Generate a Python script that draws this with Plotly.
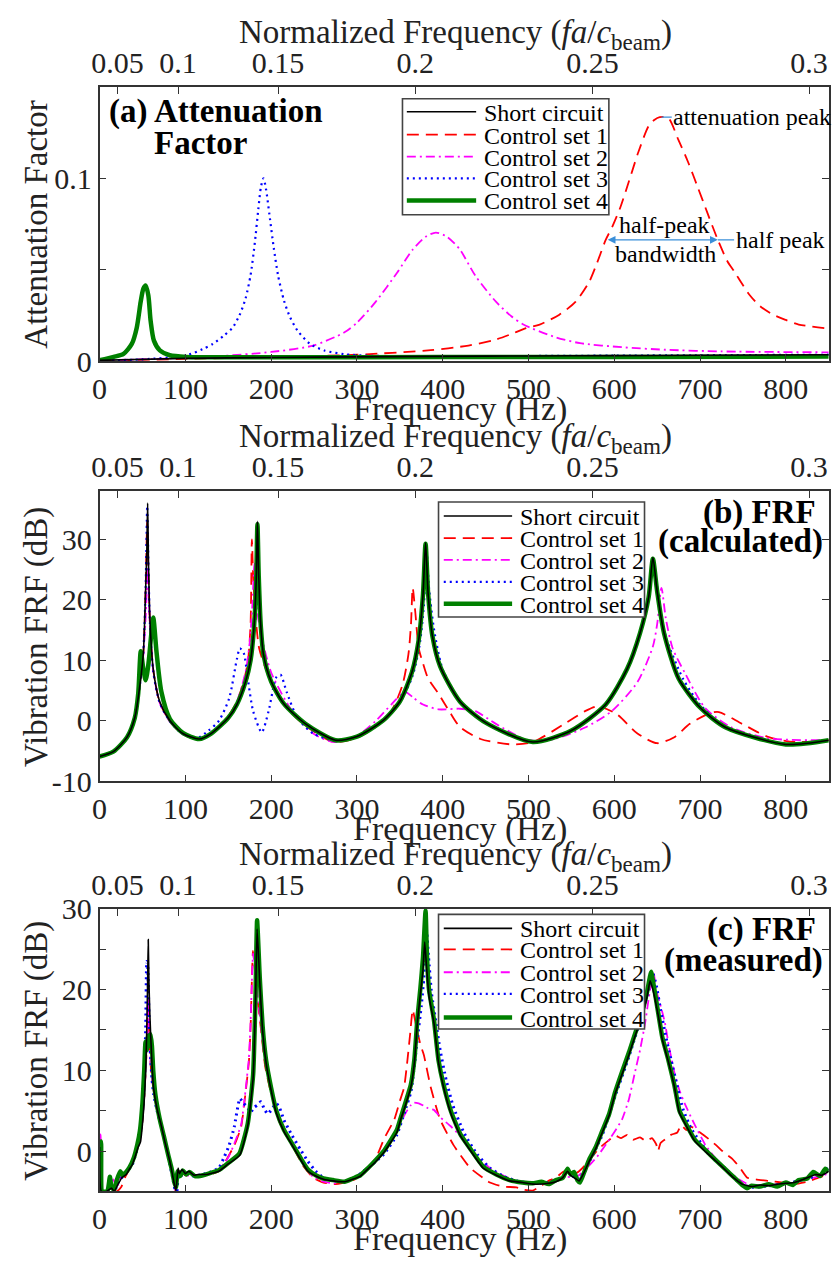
import plotly.graph_objects as go

# ---------------- data ----------------
freq_tickvals = [0, 100, 200, 300, 400, 500, 600, 700, 800]
freq_ticktext = ["0", "100", "200", "300", "400", "500", "600", "700", "800"]
# normalized-frequency ticks of the top axis, placed at their frequency (Hz)
norm_tick_hz = [21, 91.5, 208, 368, 574.5, 827]
norm_ticktext = ["0.05", "0.1", "0.15", "0.2", "0.25", "0.3"]

series_names = ["Short circuit", "Control set 1", "Control set 2", "Control set 3", "Control set 4"]

# (a) attenuation factor  [(Hz, value)]
a_short = [(0, 0.0004), (100, 0.0015), (200, 0.002), (300, 0.0023), (400, 0.0026), (500, 0.0028),
           (600, 0.003), (700, 0.0032), (850, 0.0035)]
a_set1 = [(0, 0.0003), (100, 0.0012), (200, 0.0023), (300, 0.0035), (386, 0.006), (430, 0.0085),
          (460, 0.0115), (480, 0.0148), (497, 0.018), (513, 0.02), (536, 0.0254), (555, 0.0325),
          (570.6, 0.0432), (580, 0.0538), (590, 0.0663), (597.5, 0.0733), (607, 0.084), (617, 0.0982),
          (628, 0.1142), (640, 0.1285), (647, 0.132), (653, 0.1334), (663, 0.133), (674.5, 0.1213),
          (686, 0.1089), (697.6, 0.0947), (709, 0.0805), (720.7, 0.0663), (732, 0.0545), (740, 0.049),
          (748, 0.043), (758, 0.036), (770, 0.030), (785, 0.0254), (800, 0.0225), (815, 0.020), (850, 0.0178)]
a_set2 = [(0, 0.0003), (78, 0.0014), (139, 0.0027), (200, 0.005), (249, 0.0085), (285, 0.0156),
          (300, 0.021), (322, 0.0325), (347, 0.0485), (365, 0.061), (380, 0.068), (392, 0.0703),
          (405, 0.068), (420, 0.061), (438, 0.0467), (462, 0.0325), (480, 0.0245), (494, 0.02),
          (532, 0.013), (560, 0.0098), (609, 0.0076), (660, 0.0062), (724.5, 0.0053), (850, 0.0048)]
a_set3 = [(0, 0.0003), (50, 0.001), (100, 0.003), (120, 0.0065), (132, 0.0094), (145, 0.014),
          (155, 0.0183), (163, 0.025), (170, 0.034), (176, 0.047), (181, 0.065), (185, 0.083),
          (188, 0.095), (191, 0.1), (194, 0.094), (198, 0.08), (203, 0.062), (208, 0.047), (215, 0.033),
          (222, 0.024), (231, 0.0165), (245, 0.0095), (262, 0.0058), (285, 0.0038), (310, 0.003),
          (350, 0.0027), (450, 0.0027), (600, 0.003), (850, 0.0035)]
a_set4 = [(0, 0.0005), (16.4, 0.0023), (27.9, 0.004), (37.5, 0.0094), (43.3, 0.0183), (47.9, 0.0325),
          (51, 0.0396), (53.7, 0.0414), (56.8, 0.036), (59.5, 0.0219), (63.3, 0.0112), (70.2, 0.0059),
          (81.8, 0.0032), (101, 0.0023), (200, 0.0021), (400, 0.0022), (600, 0.0023), (850, 0.0025)]

# (b) calculated FRF (dB)
b_short = [(0, -5.9), (16, -5.1), (32, -2.7), (41, 0.5), (47, 5.9), (51, 11.3), (53.7, 22), (55, 28),
           (56, 36), (57, 26), (58.7, 16.6), (62.5, 8.6), (70, 3.2), (82, 0), (97, -2.1), (116, -3.0),
           (130, -2.1), (150, 0.5), (160, 2.7), (170, 6.4), (176, 10), (180, 15.5), (182.5, 23), (184, 33),
           (185.5, 24), (188, 15.5), (191, 11), (200, 6.5), (215, 2.8), (240, -0.5), (275, -3.2),
           (300, -2.6), (330, 0), (350, 3.2), (364, 8), (372, 13.4), (377, 20.9), (380, 29.5), (383, 21),
           (388, 14), (397, 9), (420, 3.2), (450, -0.3), (505, -3.5), (550, -1.6), (590, 2.7), (615, 8.6),
           (630, 14.5), (640, 20.4), (645, 27), (650, 21.4), (658, 14.5), (675, 7), (700, 2.2),
           (730, -1.1), (800, -3.9), (850, -3.2)]
b_set1 = [(0, -5.9), (16, -5.1), (32, -2.7), (41, 0.5), (47, 5.9), (51, 11.3), (53.7, 22), (55.5, 33),
          (57, 24), (58.7, 16), (62.5, 8.4), (70, 3.1), (82, -0.1), (97, -2.2), (113, -3.0),
          (130, -2.2), (150, 0.8), (160, 3.2), (168, 6.5), (173, 10), (176, 16), (177.5, 30), (179, 24),
          (182, 17), (186, 12), (194, 8.5), (212, 3.2), (237, -0.5), (273, -3.5), (300, -2.8),
          (322, -1.0), (340, 1.6), (353, 5.9), (360, 11), (363, 16), (365, 22), (368, 18), (372, 12),
          (377, 9.5), (383, 7), (395, 4.5), (408, 1.5), (420, -1.0), (444, -3.0), (481, -3.9),
          (505, -3.5), (542, -0.5), (566, 1.6), (581, 2.4), (603, 1.1), (627, -2.1), (650, -3.7),
          (670, -2.7), (688, -0.5), (712, 1.3), (722, 1.45), (749, -0.5), (780, -2.7), (810, -3.5),
          (850, -3.2)]
b_set2 = [(0, -5.9), (16, -5.1), (32, -2.7), (41, 0.5), (47, 5.9), (51, 11), (54, 18), (56, 25.5),
          (57.5, 20), (59.5, 13), (63, 7.8), (70, 3.0), (82, -0.2), (97, -2.2), (113, -3.0),
          (130, -2.3), (139, -1.1), (157, 2.1), (170, 8), (175, 13), (178, 19), (180.5, 26), (183, 19),
          (188, 14.5), (200, 8), (224.5, 1.6), (249, -2.1), (273, -3.5), (298, -2.7), (322, 0),
          (340, 2.7), (356, 4.8), (366, 3.8), (377, 2.7), (395, 1.9), (420, 2.0), (438, 1.6),
          (462, -0.5), (499, -3.2), (530, -3.0), (566, -1.1), (597, 1.6), (627, 6.4), (645, 12.3),
          (650, 16), (655, 22), (660, 17), (668, 12), (682, 8), (706, 2.1), (737, -1.1), (780, -2.9),
          (850, -3.2)]
b_set3 = [(0, -5.9), (16, -5.1), (32, -2.7), (41, 0.5), (47, 6), (51, 11.5), (53.7, 22), (55.5, 35.5),
          (57, 25), (58.7, 16), (62.5, 8.2), (70, 3.0), (82, -0.1), (97, -2.2), (113, -2.9),
          (127, -1.6), (139, 0), (151, 3.7), (160, 10.2), (163.5, 12), (168, 11.2), (172.7, 7),
          (179, 1.6), (189, -1.9), (197, 1.6), (206, 7.2), (211, 7.6), (218, 4.8), (230.6, 0.5),
          (249, -2.1), (273, -3.2), (300, -2.6), (330, 0), (350, 3.0), (365, 7.5), (373, 12.5),
          (378, 19), (381, 28.5), (384, 22), (390, 15), (400, 8.5), (420, 3.3), (450, -0.4), (505, -3.5),
          (550, -1.6), (590, 2.7), (615, 8.6), (630, 14.5), (640, 20.4), (645.5, 26.5), (651, 21),
          (660, 14), (680, 7), (700, 2.7), (730, -1.1), (800, -3.9), (850, -3.2)]
b_set4 = [(0, -5.9), (16, -5.1), (32, -2.7), (41, 0.5), (45, 4.5), (48, 11.5), (51, 8.5), (53.7, 6.7),
          (57, 9.5), (60, 14), (62.5, 17.1), (66.4, 11.3), (72, 4.8), (82, 0.3), (97, -2.0), (116, -3.0),
          (130, -2.1), (150, 0.5), (160, 2.7), (170, 6.4), (176, 10), (180, 15.5), (182.5, 23), (184, 32.5),
          (185.5, 24), (188, 15.5), (191, 11), (200, 6.5), (215, 2.8), (240, -0.5), (275, -3.2),
          (300, -2.6), (330, 0), (350, 3.2), (364, 8), (372, 13.4), (377, 20.9), (380, 29.3), (383, 21),
          (388, 14), (397, 9), (420, 3.2), (450, -0.3), (505, -3.5), (550, -1.6), (590, 2.7), (615, 8.6),
          (630, 14.5), (640, 20.4), (645, 26.8), (650, 21.4), (658, 14.5), (675, 7), (700, 2.2),
          (730, -1.1), (800, -3.9), (850, -3.2)]

# (c) measured FRF (dB)
c_short = [(0, 0.5), (2, -5), (8, -5), (14, -4.6), (17, -5), (22, -4), (26, -3.3), (31, -2.9), (35, -2.2),
           (38, -1.7), (42, -0.5), (45, 0.5), (47.6, 1.1), (50.5, 4), (52.5, 7.1), (54, 11), (55, 15.2),
           (56, 21), (56.7, 26.2), (57.5, 21), (58.6, 16.8), (60.5, 12), (62.8, 7.9), (67, 5.2), (72, 3.1),
           (76, 1.2), (81, -0.9), (84, -2.4), (87, -4.1), (89, -4.9), (91.5, -2.1), (93, -2.8), (96, -2.3),
           (100, -2.8), (104, -2.5), (110, -3.0), (115, -2.9), (125, -2.9), (139, -2.5), (150, -1.6),
           (163.5, -0.5), (172.7, 3.1), (179, 9.1), (181.8, 19), (183.6, 27.5), (186.7, 21), (190, 15),
           (194, 11), (200, 7.5), (206, 4.7), (215, 2.4), (224.5, 0.7), (235, -1.2), (243, -2.5),
           (252, -3.1), (261, -3.5), (272, -3.7), (285.5, -3.8), (295, -3.5), (304, -3.1), (313, -2.2),
           (322, -1.3), (332, -0.1), (346.5, 2.3), (351, 3.9), (356, 5.5), (362.8, 7.9), (367, 11),
           (370.4, 15.9), (374, 19.5), (377, 22.5), (379, 25.9), (381, 23), (384, 19.2), (389.7, 15.9),
           (395, 11), (401, 7.9), (410, 4.5), (420.5, 1.9), (432, 0.1), (447, -2.1), (462.5, -3.0),
           (478, -3.7), (493, -3.9), (505, -4.1), (523.5, -4.0), (532, -3.8), (540, -3.3), (545.5, -2.5),
           (549, -3.0), (553, -3.3), (559, -3.7), (565, -2.6), (570.6, -1.3), (578, 0.2), (586, 2.3),
           (594, 4.4), (601, 7.1), (609, 9.5), (617, 11.9), (625, 14.5), (632, 16.7), (638, 19),
           (641.7, 21.1), (645, 20), (651.4, 16.7), (656, 13.8), (663, 11.1), (670, 8), (676, 4.7),
           (682, 3.5), (694, 1.2), (706.5, -0.1), (718, -1.2), (731, -2.5), (740, -3.4), (749, -4.1),
           (760, -4.4), (770, -4.2), (780, -4.3), (790, -4.1), (800, -4.0), (810, -3.9), (818, -3.6),
           (825, -3.3), (835, -2.9), (842, -3.0), (850, -2.5)]
c_set1 = [(0, 0.5), (2, -5), (20, -5), (25, -4.5), (30, -3.2), (35, -2.2), (40, -1), (45, 0.8), (48, 2),
          (51, 5), (53, 8.5), (55, 13), (56.5, 19), (58, 14), (60, 10), (63, 7.5), (67, 5), (72, 3),
          (77, 1), (81, -0.9), (85, -3), (88, -5), (91, -2.5), (95, -2.6), (100, -3.0), (110, -3.1),
          (120, -3.1), (139, -2.5), (157, 0.7), (165, 3), (170, 7.1), (174, 11), (176, 15.2),
          (178.8, 24.8), (182, 21.2), (185, 18), (188, 15.2), (193, 10.5), (200, 7.1), (210, 3.5),
          (224.5, 0.7), (237, -1.8), (249, -3.3), (261, -3.9), (273, -4.1), (285, -3.9), (298, -3.5),
          (310, -2.4), (322, -0.9), (332, 1.6), (343.5, 3.9), (350, 6.2), (355, 7.9), (358.8, 11.2),
          (362, 14.5), (365, 17.5), (369, 15.5), (374, 13.2), (378, 11.9), (386, 7.9), (397, 3.9),
          (412.8, 0.7), (432, -2.1), (455, -3.9), (470, -4.4), (486, -4.5), (495, -4.8), (505, -4.9),
          (515, -4.3), (525, -3.6), (532, -3.3), (540, -2.6), (548, -2.3), (556, -2.7), (563, -2.1),
          (572, -1.0), (582, 0.3), (592, 1.2), (601, 1.9), (608, 1.6), (615, 2.0), (622, 1.4), (630, 1.7),
          (637, 1.2), (644, 1.6), (649, 0.8), (651, 0.0), (654, 1.0), (660, 1.5), (666, 2.0), (673.5, 2.3),
          (678, 3.2), (684, 2.6), (690, 3.0), (700, 2.3), (710, 1.5), (719, 0.7), (728, -0.2), (737, -0.9),
          (746, -2.0), (755, -3.3), (765, -3.5), (780, -3.7), (795, -3.9), (810, -4.1), (825, -3.8),
          (838, -3.3), (850, -2.9)]
c_set2 = [(0, 2.1), (1, 2.0), (3, -5), (12, -5), (16, -3.5), (20, -4.5), (25, -3.2), (30, -2.8), (35, -2.1),
          (40, -0.8), (45, 0.8), (48, 2), (51, 5), (53, 8.5), (55, 13), (56.5, 19), (58, 14), (60, 10),
          (63, 7.5), (67, 5), (72, 3), (77, 1), (81, -0.9), (85, -3), (88, -4.8), (91, -2.5), (95, -2.7),
          (100, -3.0), (110, -3.1), (120, -3.0), (139, -2.3), (150, -0.8), (157, 0.9), (165, 3.3),
          (170, 7.4), (174, 11.5), (176, 16), (179, 24.5), (182, 21.5), (185, 18.5), (188, 15.6),
          (193, 11), (200, 7.5), (210, 3.8), (224.5, 0.9), (237, -1.6), (249, -3.2), (261, -3.8),
          (273, -4.0), (285, -3.8), (298, -3.4), (310, -2.6), (322, -1.3), (332, 0.2), (340, 1.2),
          (347, 2.6), (352, 3.8), (359, 5.1), (363, 5.7), (366.6, 6.0), (372, 5.9), (378, 5.6),
          (383, 5.3), (389.7, 5.1), (398, 4.1), (409, 3.1), (420, 1.9), (428, 0.7), (440, -0.7),
          (455, -2.1), (470, -3.0), (486, -3.7), (500, -4.0), (515, -4.0), (530, -3.7), (545, -3.2),
          (555, -3.3), (566, -2.3), (580, -0.7), (596, 1.7), (609, 3.9), (617, 6.4), (624.4, 9.9),
          (630, 12.5), (636, 15.9), (641, 19.5), (645.6, 22.1), (650, 19.5), (654, 18), (659, 15.9),
          (664, 12.8), (670.6, 9.5), (676, 7.5), (682, 5.9), (694, 3.2), (706.5, 0.7), (718, -0.9),
          (731, -2.3), (745, -3.5), (760, -4.3), (780, -4.2), (800, -4.0), (825, -3.5), (850, -2.8)]
c_set3 = [(0, 1), (1.5, 0), (3, -5), (10, -5), (14, -4), (18, -4.8), (22, -3.8), (28, -3), (33, -2.4),
          (38, -1.7), (43, 0), (47, 2), (50, 5), (52, 9), (53.7, 15), (55, 23.5), (56, 23), (57.5, 17),
          (59, 12.5), (61, 9), (63, 7), (67, 5), (72, 3), (77, 1), (81, -1.2), (85, -3.2), (88, -4.8),
          (90, -5), (92, -3), (96, -3), (102, -2.8), (110, -3.1), (120, -2.9), (129, -2.6), (139, -2.1),
          (145, -0.8), (151, 0.7), (157, 3), (163.5, 6.5), (168, 5.9), (172, 5.5), (176, 4.8), (180, 5.4),
          (184, 5.7), (188, 6.1), (192, 5.2), (196, 4.6), (201, 5.2), (206, 5.9), (210, 5.3), (215, 3.8),
          (220, 2.8), (224.5, 1.9), (234, 0.2), (243, -1.3), (252, -2.5), (261, -3.3), (273, -3.6),
          (285, -3.8), (298, -3.3), (310, -2.3), (322, -1.3), (332, -0.3), (346.5, 2.0), (356, 5),
          (363, 7.4), (370, 13.5), (375, 18), (378, 21.5), (381, 27.5), (383.5, 24), (387, 19.5),
          (392, 16), (397, 12.5), (404, 8.8), (412, 5.6), (425, 2.2), (440, -0.4), (455, -2.1),
          (470, -3.1), (486, -3.7), (505, -4.0), (523, -3.9), (540, -3.3), (546, -2.7), (553, -3.2),
          (560, -3.5), (565, -2.4), (572, -1.1), (586, 2.0), (601, 6.8), (617, 11.7), (632, 16.8),
          (640, 20), (645, 22), (649, 20.5), (654, 17.5), (660, 14.2), (666, 11.4), (673, 8.2), (680, 5.2),
          (690, 2.7), (706.5, 0.2), (718, -1.2), (731, -2.3), (740, -3.4), (750, -4.2), (760, -4.5),
          (780, -4.3), (800, -4.1), (825, -3.4), (840, -2.9), (850, -2.1)]
c_set4 = [(0, 1), (1.5, 1.2), (3, -5), (9, -5), (12, -3.2), (14, -4.5), (17, -4.8), (20, -3.6), (24, -2.5),
          (27, -3.0), (31, -2.6), (35, -2.0), (40, -0.8), (44, 0.8), (47, 2.5), (50, 6), (52, 10),
          (53.5, 13.5), (55, 12.5), (56.5, 14.3), (58, 13), (59.5, 14.5), (61, 13), (62.5, 10), (65, 7),
          (70, 4), (75, 1.8), (80, -0.5), (84, -2.2), (87, -3.8), (89, -4.5), (91, -2.5), (94, -3.1),
          (97, -2.4), (101, -2.9), (105, -2.6), (111, -3.1), (117, -3.1), (127, -2.8), (140, -2.3),
          (151, -1.4), (163, -0.3), (172.7, 3.4), (179, 9.5), (181.8, 19.5), (183.6, 28.6), (186.7, 21.5),
          (190, 15.5), (194, 11.3), (200, 7.8), (206, 5), (215, 2.6), (224.5, 0.9), (235, -1.0),
          (243, -2.3), (252, -3.0), (261, -3.4), (272, -3.6), (285.5, -3.8), (295, -3.4), (304, -3.0),
          (313, -2.1), (322, -1.1), (332, 0.1), (346.5, 2.6), (351, 4.1), (356, 5.8), (362.8, 8.2),
          (367, 11.4), (370.4, 16.3), (374, 20.2), (377, 24), (380, 29.8), (381.5, 24.5), (384, 20),
          (389.7, 16.3), (395, 11.3), (401, 8.2), (410, 4.8), (420.5, 2.1), (432, 0.3), (447, -1.9),
          (462.5, -2.9), (478, -3.6), (493, -3.9), (505, -4.0), (515, -3.8), (523.5, -4.1), (532, -3.6),
          (540, -3.3), (545.5, -2.2), (549, -2.9), (553, -2.6), (557, -3.6), (560, -3.9), (565, -2.6),
          (570.6, -1.1), (578, 0.4), (586, 2.5), (594, 4.6), (601, 7.3), (609, 9.8), (617, 12.2),
          (625, 14.8), (632, 17.0), (638, 19.6), (643, 22.2), (646, 20.5), (651.4, 17), (656, 14.1),
          (663, 11.3), (670, 8.2), (676, 5), (682, 3.7), (694, 1.4), (706.5, 0.1), (718, -1.1),
          (731, -2.4), (740, -3.3), (749, -4.2), (755, -4.6), (760, -4.3), (770, -4.4), (780, -4.1),
          (790, -4.4), (800, -3.9), (808, -4.2), (815, -3.6), (825, -3.4), (832, -2.6), (840, -3.1),
          (846, -2.2), (850, -2.6)]

# annotation anchor values of panel (a)
peak_hz, peak_val = 653, 0.1334
half_left_hz, half_right_hz, half_val = 590, 720.7, 0.0663

# ---------------- styling / layout ----------------
W, H = 832, 1272
FONT = "Liberation Serif"
AXC = "#333333"
ANN_BLUE = "#3a8fd9"

styles = {
    "Short circuit": dict(color="#000000", width=1.6, dash="solid"),
    "Control set 1": dict(color="#ff0000", width=1.8, dash="12px,7px"),
    "Control set 2": dict(color="#ff00ff", width=1.8, dash="9px,4px,2px,4px"),
    "Control set 3": dict(color="#0000ff", width=2.2, dash="2px,4px"),
    "Control set 4": dict(color="#008000", width=4.5, dash="solid"),
}
draw_order = ["Control set 1", "Control set 2", "Control set 3", "Control set 4", "Short circuit"]

X0_PX, X1_PX = 92.5, 828.7
panels = [
    dict(top=72.7, bottom=354.3, yrange=[0, 0.15],
         ytickvals=[0, 0.1], yticktext=["0", "0.1"], yminor=[0.05],
         data={"Short circuit": a_short, "Control set 1": a_set1, "Control set 2": a_set2,
               "Control set 3": a_set3, "Control set 4": a_set4},
         ytitle="Attenuation Factor", smooth=0.7, blue_w=2.2,
         legend=dict(box=(398.3, 606.7, 85, 204), rows=[98.3, 121.7, 144.3, 166.7, 189.3],
                     line=(402.7, 472.7), text=479)),
    dict(top=487.7, bottom=785.7, yrange=[-10, 38],
         ytickvals=[-10, 0, 10, 20, 30], yticktext=["-10", "0", "10", "20", "30"], yminor=[],
         data={"Short circuit": b_short, "Control set 1": b_set1, "Control set 2": b_set2,
               "Control set 3": b_set3, "Control set 4": b_set4},
         ytitle="Vibration FRF (dB)", smooth=0.7, blue_w=2.2,
         legend=dict(box=(434.7, 642.7, 499, 617), rows=[513.3, 536, 558.3, 581, 603.3],
                     line=(440, 509), text=514.7)),
    dict(top=916.7, bottom=1206.7, yrange=[-5, 30],
         ytickvals=[0, 10, 20, 30], yticktext=["0", "10", "20", "30"], yminor=[5, 15, 25],
         data={"Short circuit": c_short, "Control set 1": c_set1, "Control set 2": c_set2,
               "Control set 3": c_set3, "Control set 4": c_set4},
         ytitle="Vibration FRF (dB)", smooth=0.45, blue_w=3.0,
         legend=dict(box=(434.7, 642.7, 922.3, 1040), rows=[936.7, 958.3, 981.7, 1004, 1028.3],
                     line=(440, 509), text=514.7)),
]


def pxx(px):
    return px / W


def pxy(py):
    return 1 - py / H


fig = go.Figure()
shapes, annotations = [], []
layout = {}

for i, p in enumerate(panels):
    xb = "x" if i == 0 else f"x{2 * i + 1}"
    xt = f"x{2 * i + 2}"
    yy = "y" if i == 0 else f"y{i + 1}"
    xb_name = "xaxis" if i == 0 else f"xaxis{2 * i + 1}"
    xt_name = f"xaxis{2 * i + 2}"
    yy_name = "yaxis" if i == 0 else f"yaxis{i + 1}"

    for name in draw_order:
        pts = p["data"][name]
        st = styles[name]
        w = p["blue_w"] if name == "Control set 3" else st["width"]
        fig.add_trace(go.Scatter(
            x=[q[0] for q in pts], y=[q[1] for q in pts], mode="lines", name=name,
            line=dict(color=st["color"], width=w, dash=st["dash"], shape="spline",
                      smoothing=p["smooth"]),
            xaxis=xb, yaxis=yy, showlegend=False, hoverinfo="skip"))
    # empty trace so the top axis subplot exists
    fig.add_trace(go.Scatter(x=[], y=[], xaxis=xt, yaxis=yy, showlegend=False))

    dom_y = [pxy(p["bottom"]), pxy(p["top"])]
    common = dict(showgrid=False, zeroline=False, showline=True, linecolor=AXC, linewidth=1.5,
                  ticks="inside", ticklen=7, tickwidth=1.3, tickcolor=AXC,
                  tickfont=dict(family=FONT, size=30, color="#222222"))
    layout[xb_name] = dict(common, domain=[pxx(X0_PX), pxx(X1_PX)], range=[0, 850], anchor=yy,
                           tickmode="array", tickvals=freq_tickvals, ticktext=freq_ticktext,
                           mirror=False)
    layout[xt_name] = dict(common, overlaying=xb, side="top", range=[0, 850], anchor=yy,
                           tickmode="array", tickvals=norm_tick_hz, ticktext=norm_ticktext)
    layout[yy_name] = dict(common, domain=dom_y, range=p["yrange"], anchor=xb, mirror="ticks",
                           tickmode="array", tickvals=p["ytickvals"], ticktext=p["yticktext"],
                           minor=dict(tickmode="array", tickvals=p["yminor"], ticks="inside",
                                      ticklen=7, tickwidth=1.3, tickcolor=AXC, showgrid=False))

    annotations.append(dict(xref="paper", yref="paper", x=pxx(452), y=pxy(p["top"] - 53.5),
                            text="Normalized Frequency (<i>fa</i>/<i>c</i><sub>beam</sub>)",
                            showarrow=False, xanchor="center", yanchor="middle",
                            font=dict(family=FONT, size=33, color="#222222")))
    annotations.append(dict(xref="paper", yref="paper", x=pxx(456), y=pxy(p["bottom"] + 49),
                            text="Frequency (Hz)", showarrow=False, xanchor="center", yanchor="middle",
                            font=dict(family=FONT, size=34, color="#222222")))
    annotations.append(dict(xref="paper", yref="paper", x=pxx(28),
                            y=pxy((p["top"] + p["bottom"]) / 2 + 1), text=p["ytitle"], textangle=-90,
                            showarrow=False, xanchor="center", yanchor="middle",
                            font=dict(family=FONT, size=33, color="#222222")))

    # manual legend box
    lg = p["legend"]
    bx0, bx1, by0, by1 = lg["box"]
    shapes.append(dict(type="rect", xref="paper", yref="paper", x0=pxx(bx0), x1=pxx(bx1),
                       y0=pxy(by1), y1=pxy(by0), line=dict(color="#444444", width=1.6),
                       fillcolor="white", layer="above"))
    for name, ry in zip(series_names, lg["rows"]):
        st = styles[name]
        shapes.append(dict(type="line", xref="paper", yref="paper", x0=pxx(lg["line"][0]),
                           x1=pxx(lg["line"][1]), y0=pxy(ry), y1=pxy(ry), layer="above",
                           line=dict(color=st["color"], width=st["width"], dash=st["dash"])))
        annotations.append(dict(xref="paper", yref="paper", x=pxx(lg["text"]), y=pxy(ry + 1),
                                text=name, showarrow=False, xanchor="left", yanchor="middle",
                                font=dict(family=FONT, size=24, color="black")))

# panel labels
bold = dict(family=FONT, size=33, color="black")
annotations += [
    dict(xref="paper", yref="paper", x=pxx(100), y=pxy(98), text="<b>(a) Attenuation</b>",
         showarrow=False, xanchor="left", yanchor="middle", font=bold),
    dict(xref="paper", yref="paper", x=pxx(145), y=pxy(130), text="<b>Factor</b>",
         showarrow=False, xanchor="left", yanchor="middle", font=bold),
    dict(xref="paper", yref="paper", x=pxx(818), y=pxy(510), text="<b>(b) FRF</b>",
         showarrow=False, xanchor="right", yanchor="middle", font=bold),
    dict(xref="paper", yref="paper", x=pxx(825), y=pxy(539), text="<b>(calculated)</b>",
         showarrow=False, xanchor="right", yanchor="middle", font=bold),
    dict(xref="paper", yref="paper", x=pxx(818), y=pxy(938), text="<b>(c) FRF</b>",
         showarrow=False, xanchor="right", yanchor="middle", font=bold),
    dict(xref="paper", yref="paper", x=pxx(825), y=pxy(970), text="<b>(measured)</b>",
         showarrow=False, xanchor="right", yanchor="middle", font=bold),
]

# panel (a) peak / bandwidth annotations (data coordinates)
small = dict(family=FONT, size=24, color="black")
shapes.append(dict(type="line", xref="x", yref="y", x0=peak_hz + 2, x1=peak_hz + 14,
                   y0=peak_val, y1=peak_val, line=dict(color=ANN_BLUE, width=1.3)))
annotations.append(dict(xref="x", yref="y", x=peak_hz + 13, y=peak_val, text="attenuation peak",
                        showarrow=False, xanchor="left", yanchor="middle", font=small))
shapes.append(dict(type="line", xref="x", yref="y", x0=half_right_hz, x1=half_right_hz + 19,
                   y0=half_val, y1=half_val, line=dict(color=ANN_BLUE, width=1.3)))
annotations.append(dict(xref="x", yref="y", x=half_right_hz + 19, y=half_val, text="half peak",
                        showarrow=False, xanchor="left", yanchor="middle", font=small))
annotations.append(dict(xref="x", yref="y", axref="x", ayref="y", x=half_right_hz, y=half_val,
                        ax=half_left_hz, ay=half_val, text=" ", showarrow=True, arrowhead=2,
                        startarrowhead=2, arrowside="end+start", arrowsize=1.2, arrowwidth=1.3,
                        arrowcolor=ANN_BLUE, standoff=0, startstandoff=0,
                        font=dict(family=FONT, size=2)))
mid_hz = (half_left_hz + half_right_hz) / 2
annotations.append(dict(xref="x", yref="y", x=mid_hz + 3, y=half_val + 0.0079, text="half-peak",
                        showarrow=False, xanchor="center", yanchor="middle", font=small))
annotations.append(dict(xref="x", yref="y", x=mid_hz + 4, y=half_val - 0.0075, text="bandwidth",
                        showarrow=False, xanchor="center", yanchor="middle", font=small))

fig.update_layout(
    width=W, height=H, autosize=False,
    margin=dict(l=0, r=0, t=0, b=0),
    paper_bgcolor="white", plot_bgcolor="white",
    font=dict(family=FONT, color="#222222"),
    showlegend=False, shapes=shapes, annotations=annotations, **layout)

fig.write_html("out.html", config={"displayModeBar": False},
               post_script="document.body.style.margin='0';document.body.style.overflow='hidden';")
